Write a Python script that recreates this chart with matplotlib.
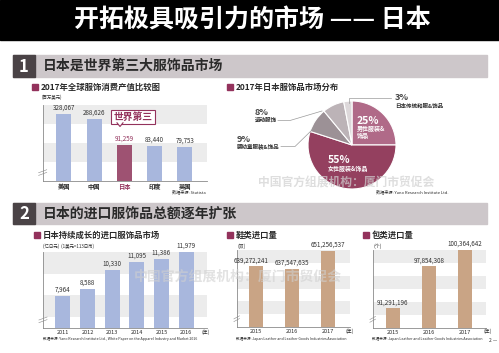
import matplotlib.pyplot as plt
from matplotlib.patches import Rectangle, Polygon
from matplotlib.lines import Line2D

plt.rcParams['font.family'] = ['Noto Sans CJK SC', 'DejaVu Sans']

W, H = 499, 353

# data
countries = ['美国', '中国', '日本', '印度', '英国']
consumption = [328067, 288626, 91259, 83440, 79753]

segments = ['男性服装&饰品', '女性服装&饰品', '婴幼童服装&饰品', '运动服饰', '日本传统和服&饰品']
shares = [25, 55, 9, 8, 3]

import_years = ['2011', '2012', '2013', '2014', '2015', '2016']
import_value = [7964, 8588, 10330, 11095, 11386, 11979]

goods_years = ['2015', '2016', '2017']
shoes = [639272241, 637547635, 651256537]
bags = [91291196, 97854308, 100364642]

maroon = '#93325c'
blue = '#a8b7dd'
tan = '#c9a485'
band = '#ececec'
dark = '#2a2a2a'

fig = plt.figure(figsize=(W / 100, H / 100), dpi=100)


def box(x0, y0, x1, y1):
    return [x0 / W, 1 - y1 / H, (x1 - x0) / W, (y1 - y0) / H]


def txt(x, y, s, **kw):
    kw.setdefault('va', 'center')
    kw.setdefault('color', dark)
    return fig.text(x / W, 1 - y / H, s, **kw)


def rect(x0, y0, x1, y1, color, **kw):
    fig.patches.append(Rectangle((x0 / W, 1 - y1 / H), (x1 - x0) / W, (y1 - y0) / H,
                                 transform=fig.transFigure, color=color, **kw))


def line(xs, ys, **kw):
    fig.lines.append(Line2D([x / W for x in xs], [1 - y / H for y in ys],
                            transform=fig.transFigure, **kw))


def style(ax, nbands):
    for s in ['top', 'right']:
        ax.spines[s].set_visible(False)
    for s in ['left', 'bottom']:
        ax.spines[s].set_color('#8a8a8a')
        ax.spines[s].set_linewidth(0.6)
    ax.set_yticks([])
    ax.tick_params(axis='x', length=0, pad=1.5, labelsize=4, colors=dark)
    h = 1 / nbands
    i = 0
    while i * h < 1:
        ax.add_patch(Rectangle((0, 1 - (i + 1) * h), 1, h, transform=ax.transAxes,
                               color=band, zorder=0, lw=0))
        i += 2
    # axis break mark
    for dy in (0.0, 0.035):
        ax.plot([-0.025, 0.025], [0.07 + dy, 0.11 + dy], transform=ax.transAxes,
                color='#8a8a8a', lw=0.4, clip_on=False)


def bars_from_floor(ax, values, ymin, ymax, **kw):
    # broken axis: bars start at the axis floor
    ax.bar(range(len(values)), [v - ymin for v in values], bottom=ymin, zorder=2, **kw)
    ax.set_ylim(ymin, ymax)


# header
rect(0, 0, W, 40, 'black')
txt(252, 21, '开拓极具吸引力的市场 —— 日本', color='white', fontsize=18,
    weight='bold', ha='center')

# section bars
for y0, y1, num, head in [(55, 77, '1', '日本是世界第三大服饰品市场'),
                          (203, 224, '2', '日本的进口服饰品总额逐年扩张')]:
    rect(13, y0, 487, y1, '#cdc7ca')
    rect(13, y0, 35, y1, '#4a4346')
    txt(24, (y0 + y1) / 2 + 0.5, num, color='white', fontsize=12, weight='bold', ha='center')
    txt(43, (y0 + y1) / 2, head, fontsize=10, weight='bold')

# subtitles
for x, y, s in [(32, 87, '2017年全球服饰消费产值比较图'),
                (227, 87, '2017年日本服饰品市场分布'),
                (34, 235, '日本持续成长的进口服饰品市场'),
                (227, 235, '鞋类进口量'),
                (363, 235, '包类进口量')]:
    rect(x, y - 3, x + 6, y + 3, maroon)
    txt(x + 9, y, s, fontsize=6, weight='bold')

# chart 1: consumption
ax1 = fig.add_axes(box(42.7, 105, 206.7, 180.7))
style(ax1, 4)
colors1 = [blue, blue, '#9e5272', blue, blue]
bars_from_floor(ax1, consumption, -180000, 397000, width=0.5, color=colors1)
ax1.set_xlim(-0.70, 4.72)
ax1.set_xticks(range(len(countries)))
ax1.set_xticklabels(countries, fontsize=4.5, weight='bold')
ax1.get_xticklabels()[2].set_color(maroon)
for i, v in enumerate(consumption):
    ax1.annotate(f'{v:,}', (i, v), xytext=(0, 1.5), textcoords='offset points',
                 ha='center', va='bottom', fontsize=4.5,
                 color=maroon if i == 2 else '#333333')
txt(42, 97, '(百万美元)', fontsize=3.2)
txt(206, 192, '数据来源: Statista', fontsize=3, ha='right')

# callout
txt(133, 117, '世界第三', fontsize=7, weight='bold', color=maroon, ha='center',
    bbox=dict(boxstyle='square,pad=0.25', fc='white', ec=maroon, lw=0.8))
fig.patches.append(Polygon([(117 / W, 1 - 122.6 / H), (123 / W, 1 - 122.6 / H),
                            (120 / W, 1 - 126.5 / H)], closed=True,
                           transform=fig.transFigure, fc='white', ec='none', zorder=5))
line([117, 120, 123], [122.8, 126.5, 122.8], color=maroon, lw=0.8, zorder=6)

# chart 2: pie
axp = fig.add_axes(box(308, 101, 396, 189))
pie_colors = ['#b06a88', '#94405f', '#9c9196', '#bcb3b7', '#ddd8da']
axp.pie(shares, colors=pie_colors, startangle=90, counterclock=False,
        wedgeprops=dict(edgecolor='white', linewidth=0.8))
axp.set_xlim(-1, 1)
axp.set_ylim(-1, 1)
axp.set_aspect('equal')

txt(357, 120.5, f'{shares[0]}%', color='white', fontsize=7.5, weight='bold')
txt(357, 128.5, '男性服装&', color='white', fontsize=4.3, weight='bold')
txt(357, 135.5, '饰品', color='white', fontsize=4.3, weight='bold')
txt(328, 160, f'{shares[1]}%', color='white', fontsize=7.5, weight='bold')
txt(328, 168.5, segments[1], color='white', fontsize=4.3, weight='bold')

txt(237, 139.5, f'{shares[2]}%', fontsize=6.5, weight='bold', color='#444444')
txt(237, 146.5, segments[2], fontsize=4, weight='bold')
line([281, 295, 314], [146.5, 146.5, 128], color='#9a9a9a', lw=0.5)

txt(255, 112.5, f'{shares[3]}%', fontsize=6.5, weight='bold', color='#444444')
txt(255, 119.5, segments[3], fontsize=4, weight='bold')
line([278, 290, 322], [120.5, 120.5, 111], color='#9a9a9a', lw=0.5)

txt(395, 97.5, f'{shares[4]}%', fontsize=6.5, weight='bold', color='#444444')
txt(395, 105.5, segments[4], fontsize=4, weight='bold')
line([349, 349, 391], [103, 98, 98], color='#9a9a9a', lw=0.5)

txt(449, 192, '数据来源: Yano Research Institute Ltd.', fontsize=3, ha='right')

# chart 3: import value
ax3 = fig.add_axes(box(43, 252, 207, 328))
style(ax3, 3.5)
bars_from_floor(ax3, import_value, 5000, 12000, width=0.61, color=blue)
ax3.set_xlim(-0.81, 5.85)
ax3.set_xticks(range(len(import_years)))
ax3.set_xticklabels(import_years)
for i, v in enumerate(import_value):
    ax3.annotate(f'{v:,}', (i, v), xytext=(0, 1.5), textcoords='offset points',
                 ha='center', va='bottom', fontsize=4.5, color='#333333')
txt(43, 246, '(亿日元)  (1美元=113日币)', fontsize=3.2)
txt(202, 332, '(年)', fontsize=3.5)
txt(43, 338.5, '数据来源: Yano Research Institute Ltd., White Paper on the Apparel Industry and Market 2016',
    fontsize=2.6)

# chart 4: shoes
ax4 = fig.add_axes(box(236.7, 250, 350, 327))
style(ax4, 6)
bars_from_floor(ax4, shoes, 592e6, 652e6, width=0.39, color=tan)
ax4.set_xlim(-0.54, 2.61)
ax4.set_xticks(range(len(goods_years)))
ax4.set_xticklabels(goods_years)
for i, v in enumerate(shoes):
    ax4.annotate(f'{v:,}', (i, v), xytext=(-4 if i == 0 else 0, 1.5),
                 textcoords='offset points', ha='center', va='bottom',
                 fontsize=4.5, color='#333333')
txt(237, 246, '(双)', fontsize=3.5)
txt(345, 331, '(年)', fontsize=3.5)
txt(236, 338.5, '数据来源: Japan Leather and Leather Goods Industries Association', fontsize=2.6)

# chart 5: bags
ax5 = fig.add_axes(box(372.7, 250, 486, 327.7))
style(ax5, 6)
bars_from_floor(ax5, bags, 88.3e6, 100.4e6, width=0.39, color=tan)
ax5.set_xlim(-0.56, 2.58)
ax5.set_xticks(range(len(goods_years)))
ax5.set_xticklabels(goods_years)
for i, v in enumerate(bags):
    ax5.annotate(f'{v:,}', (i, v), xytext=(0, 1.5), textcoords='offset points',
                 ha='center', va='bottom', fontsize=4.5, color='#333333')
txt(373, 246, '(个)', fontsize=3.5)
txt(483, 331, '(年)', fontsize=3.5)
txt(372, 338.5, '数据来源: Japan Leather and Leather Goods Industries Association', fontsize=2.6)

# watermarks and page number
txt(346, 183, '中国官方组展机构：厦门市贸促会', fontsize=8.5, color='#d0d0d0',
    alpha=0.7, ha='center', zorder=10, weight='bold')
txt(238, 277, '中国官方组展机构：厦门市贸促会', fontsize=10, color='#d0d0d0',
    alpha=0.6, ha='center', zorder=10, weight='bold')
txt(489, 341, '2 —', fontsize=3.5)

fig.savefig('out.png', dpi=100)
